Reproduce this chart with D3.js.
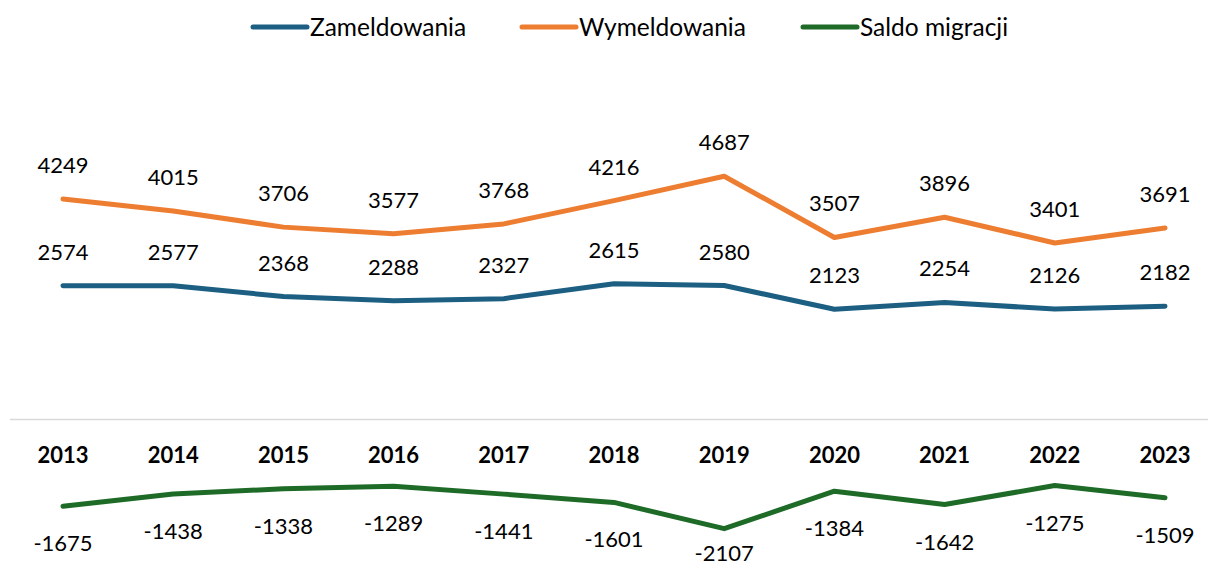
<!DOCTYPE html>
<html>
<head>
<meta charset="utf-8">
<script src="https://cdn.jsdelivr.net/npm/d3@7"></script>
<style>
  body { margin: 0; background: #fff; }
  svg text { font-family: Lato, "Open Sans", sans-serif; fill: #000; }
</style>
</head>
<body>
<div class="main"></div>
<script>
const years = ["2013","2014","2015","2016","2017","2018","2019","2020","2021","2022","2023"];
const zameldowania = [2574, 2577, 2368, 2288, 2327, 2615, 2580, 2123, 2254, 2126, 2182];
const wymeldowania = [4249, 4015, 3706, 3577, 3768, 4216, 4687, 3507, 3896, 3401, 3691];
const saldo = [-1675, -1438, -1338, -1289, -1441, -1601, -2107, -1384, -1642, -1275, -1509];
const seriesNames = ["Zameldowania", "Wymeldowania", "Saldo migracji"];
const colors = ["#1d5f82", "#ed7d31", "#1e6b28"];

const w = 1208;
const h = 565;

const svg = d3.select(".main")
  .append("svg")
  .attr("width", w)
  .attr("height", h);

const xScale = d3.scalePoint()
  .domain(years)
  .range([63, 1165]);

const yScale = d3.scaleLinear()
  .domain([-3000, 5000])
  .range([575, 160]);

// zero line
svg.append("line")
  .attr("x1", 10).attr("x2", w)
  .attr("y1", yScale(0)).attr("y2", yScale(0))
  .attr("stroke", "#d9d9d9")
  .attr("stroke-width", 1.5);

// year labels
svg.selectAll(".year")
  .data(years)
  .enter()
  .append("text")
  .attr("class", "year")
  .attr("x", (d) => xScale(d))
  .attr("y", 463)
  .attr("text-anchor", "middle")
  .attr("font-size", "22px")
  .attr("font-weight", "bold")
  .text((d) => d);

const line = d3.line()
  .x((d, i) => xScale(years[i]))
  .y((d) => yScale(d));

const allSeries = [zameldowania, wymeldowania, saldo];

allSeries.forEach((vals, s) => {
  svg.append("path")
    .datum(vals)
    .attr("d", line)
    .attr("fill", "none")
    .attr("stroke", colors[s])
    .attr("stroke-width", 5)
    .attr("stroke-linecap", "round")
    .attr("stroke-linejoin", "round");

  svg.selectAll(".lbl" + s)
    .data(vals)
    .enter()
    .append("text")
    .attr("class", "lbl" + s)
    .attr("x", (d, i) => xScale(years[i]))
    .attr("y", (d) => d < 0 ? Math.min(yScale(d) + 45, h - 4) : yScale(d) - 26)
    .attr("text-anchor", "middle")
    .attr("font-size", "22px")
    .text((d) => d);
});

// legend
const legendX = [253, 522, 803];
seriesNames.forEach((name, s) => {
  svg.append("line")
    .attr("x1", legendX[s]).attr("x2", legendX[s] + 54)
    .attr("y1", 27).attr("y2", 27)
    .attr("stroke", colors[s])
    .attr("stroke-width", 5)
    .attr("stroke-linecap", "round");
  svg.append("text")
    .attr("x", legendX[s] + 57)
    .attr("y", 36)
    .attr("font-size", "24.5px")
    .text(name);
});
</script>
</body>
</html>
